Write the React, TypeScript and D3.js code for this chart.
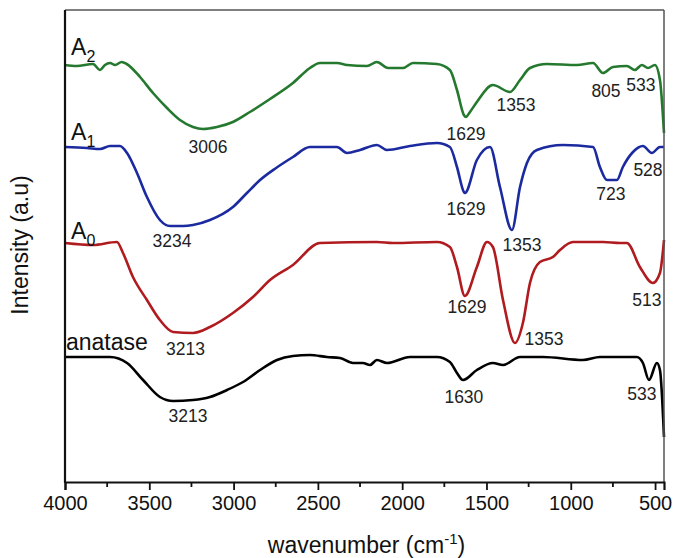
import * as d3 from 'd3';
import React, { useEffect, useRef } from 'react';

// FTIR spectra, [wavenumber (cm-1), intensity (a.u., stacked)]
const spectrumA2: [number, number][] = [
  [4000, 417], [3931, 416], [3834, 418], [3792, 412], [3763, 417], [3733, 419], [3703, 417],
  [3664, 420], [3634, 418], [3555, 405], [3478, 389], [3395, 374], [3318, 362], [3241, 355],
  [3182, 353], [3099, 355], [3004, 360], [2903, 370], [2784, 383], [2648, 399], [2547, 414],
  [2488, 419], [2387, 419], [2327, 417], [2209, 416], [2150, 420], [2084, 414], [1995, 414],
  [1936, 419], [1794, 418], [1717, 412], [1675, 392], [1634, 367], [1622, 365], [1598, 370],
  [1557, 380], [1462, 397], [1361, 390], [1301, 402], [1242, 414], [1141, 418], [963, 417],
  [868, 419], [809, 409], [750, 415], [667, 416], [620, 412], [578, 417], [542, 414],
  [501, 417], [471, 402], [447, 349],
];

const spectrumA1: [number, number][] = [
  [4000, 335], [3870, 334], [3792, 333], [3733, 336], [3674, 336], [3632, 329], [3573, 309],
  [3514, 285], [3437, 262], [3377, 256], [3300, 256], [3241, 257], [3140, 262], [3004, 275],
  [2921, 289], [2843, 302], [2748, 314], [2648, 325], [2547, 335], [2387, 335], [2327, 329],
  [2250, 332], [2150, 337], [2090, 332], [1954, 336], [1794, 339], [1717, 335], [1675, 315],
  [1634, 290], [1628, 289], [1557, 322], [1479, 335], [1420, 295], [1349, 252], [1301, 295],
  [1260, 319], [1201, 332], [1046, 337], [868, 335], [827, 315], [785, 302], [726, 302],
  [691, 315], [631, 330], [572, 336], [519, 329], [471, 335], [447, 335],
];

const spectrumA0: [number, number][] = [
  [4000, 239], [3834, 237], [3692, 240], [3656, 229], [3597, 205], [3514, 182], [3437, 162],
  [3359, 150], [3241, 149], [3140, 155], [3004, 169], [2885, 185], [2784, 202], [2648, 217],
  [2488, 239], [2150, 240], [2055, 239], [1794, 240], [1717, 235], [1675, 215], [1628, 186],
  [1557, 215], [1497, 240], [1462, 235], [1402, 182], [1331, 139], [1284, 159], [1242, 199],
  [1183, 220], [1106, 225], [1064, 232], [987, 240], [808, 240], [708, 239], [667, 239],
  [590, 215], [513, 199], [471, 209], [447, 242],
];

const spectrumAnatase: [number, number][] = [
  [4000, 125], [3733, 125], [3632, 119], [3537, 102], [3437, 85], [3359, 81], [3241, 82],
  [3140, 85], [3039, 92], [2944, 100], [2843, 112], [2743, 122], [2648, 126], [2547, 127],
  [2446, 125], [2369, 124], [2292, 119], [2233, 119], [2191, 117], [2150, 122], [2090, 119],
  [1954, 125], [1794, 125], [1717, 120], [1675, 109], [1639, 102], [1557, 112], [1462, 119],
  [1402, 117], [1301, 125], [1165, 125], [928, 122], [827, 125], [608, 125], [572, 119],
  [536, 102], [489, 119], [471, 112], [447, 45],
];

const seriesNames = ['A2', 'A1', 'A0', 'anatase'];
const seriesColors = ['#25792f', '#1b2a9e', '#b01b20', '#000000'];

// sample labels: [main, subscript, wavenumber, intensity]
const sampleLabels: [string, string, number, number][] = [
  ['A', '2', 3964, 427],
  ['A', '1', 3964, 342],
  ['A', '0', 3964, 243],
  ['anatase', '', 3994, 132],
];

// peak annotations: [text, wavenumber, intensity]
const peakLabels: [string, number, number][] = [
  ['3006', 3152, 329], ['1629', 1622, 342], ['1353', 1325, 371], ['805', 791, 385], ['533', 584, 391],
  ['3234', 3365, 235], ['1629', 1622, 267], ['1353', 1289, 231], ['723', 762, 282], ['528', 542, 306],
  ['3213', 3285, 127], ['1629', 1616, 169], ['1353', 1159, 137], ['513', 548, 176],
  ['3213', 3270, 60], ['1630', 1634, 79], ['533', 578, 82],
];

const xTicks = [4000, 3500, 3000, 2500, 2000, 1500, 1000, 500];
const xMinorTicks = [3750, 3250, 2750, 2250, 1750, 1250, 750];

export default function App() {
  const ref = useRef<SVGSVGElement>(null);

  useEffect(() => {
    const svg = d3.select(ref.current);
    svg.selectAll('*').remove();

    const margin = { top: 10, left: 65, right: 10, bottom: 76 };
    const width = 674, height = 558;
    const font = "'Liberation Sans', Arial, sans-serif";

    const x = d3.scaleLinear().domain([4000, 447]).range([margin.left, width - margin.right]);
    const y = d3.scaleLinear().domain([0, 472]).range([height - margin.bottom, margin.top]);

    const line = d3.line<[number, number]>()
      .x(d => x(d[0]))
      .y(d => y(d[1]))
      .curve(d3.curveMonotoneX);

    const all = [spectrumA2, spectrumA1, spectrumA0, spectrumAnatase];
    svg.selectAll('path.spectrum')
      .data(all)
      .enter().append('path')
      .attr('class', 'spectrum')
      .attr('fill', 'none')
      .attr('stroke', (d, i) => seriesColors[i])
      .attr('stroke-width', 2.6)
      .attr('stroke-linejoin', 'round')
      .attr('d', d => line(d));

    // frame
    svg.append('line')
      .attr('x1', x.range()[0]).attr('x2', x.range()[1])
      .attr('y1', y.range()[1]).attr('y2', y.range()[1])
      .attr('stroke', '#555').attr('stroke-width', 1.5);
    svg.append('line')
      .attr('x1', x.range()[1]).attr('x2', x.range()[1])
      .attr('y1', y.range()[1]).attr('y2', y.range()[0])
      .attr('stroke', '#555').attr('stroke-width', 1.5);
    svg.append('line')
      .attr('x1', x.range()[0]).attr('x2', x.range()[0])
      .attr('y1', y.range()[1]).attr('y2', y.range()[0] + 1)
      .attr('stroke', '#111').attr('stroke-width', 2.2);

    const xAxis = svg.append('g')
      .attr('transform', `translate(0,${y.range()[0]})`)
      .call(d3.axisBottom(x).tickValues(xTicks).tickSize(8).tickPadding(6).tickFormat(d3.format('d')));
    xAxis.select('.domain').attr('stroke', '#111').attr('stroke-width', 2.2);
    xAxis.selectAll('.tick line').attr('stroke', '#111').attr('stroke-width', 1.8);
    xAxis.selectAll('.tick text')
      .attr('fill', '#111').attr('font-size', 20).attr('font-family', font);

    svg.append('g')
      .selectAll('line')
      .data(xMinorTicks)
      .enter().append('line')
      .attr('x1', d => x(d)).attr('x2', d => x(d))
      .attr('y1', y.range()[0]).attr('y2', y.range()[0] + 5)
      .attr('stroke', '#111').attr('stroke-width', 1.8);

    // sample labels
    const sl = svg.append('g').selectAll('text')
      .data(sampleLabels)
      .enter().append('text')
      .attr('x', d => x(d[2]))
      .attr('y', d => y(d[3]))
      .attr('font-family', font)
      .attr('font-size', 23)
      .attr('fill', '#111');
    sl.append('tspan').text(d => d[0]);
    sl.append('tspan')
      .attr('dy', 7)
      .attr('font-size', 16)
      .text(d => d[1]);

    // peak labels
    svg.append('g').selectAll('text')
      .data(peakLabels)
      .enter().append('text')
      .attr('x', d => x(d[1]))
      .attr('y', d => y(d[2]))
      .attr('text-anchor', 'middle')
      .attr('font-family', font)
      .attr('font-size', 17.5)
      .attr('fill', '#222')
      .text(d => d[0]);

    // axis titles
    const xt = svg.append('text')
      .attr('x', (x.range()[0] + x.range()[1]) / 2 + 2)
      .attr('y', 553)
      .attr('text-anchor', 'middle')
      .attr('font-family', font)
      .attr('font-size', 23)
      .attr('fill', '#111');
    xt.append('tspan').text('wavenumber (cm');
    xt.append('tspan').attr('dy', -9).attr('font-size', 15).text('-1');
    xt.append('tspan').attr('dy', 9).text(')');

    svg.append('text')
      .attr('transform', 'translate(28,245) rotate(-90)')
      .attr('text-anchor', 'middle')
      .attr('font-family', font)
      .attr('font-size', 23)
      .attr('fill', '#111')
      .text('Intensity (a.u)');
  }, []);

  return (
    <svg ref={ref} width={674} height={558}
      style={{ position: 'absolute', left: 0, top: 0, background: '#fff' }} />
  );
}
